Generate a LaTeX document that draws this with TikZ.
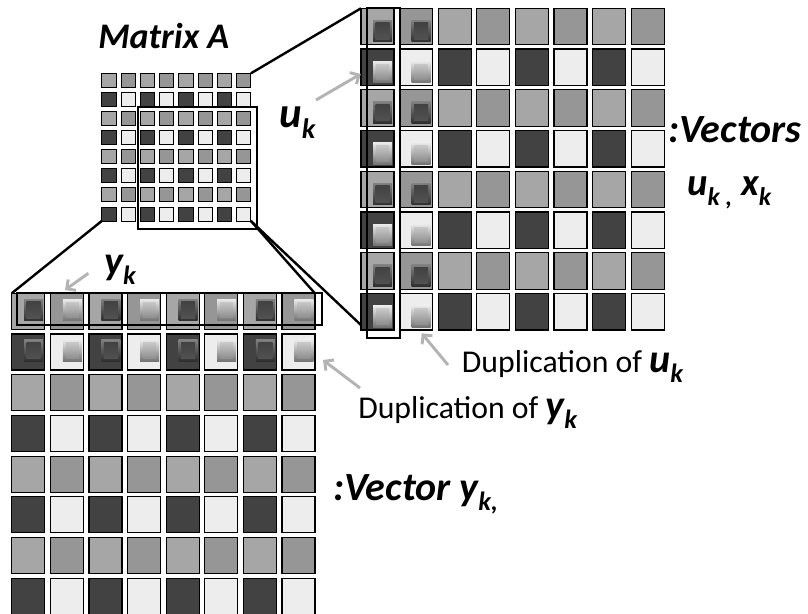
\documentclass[tikz,border=0pt]{standalone}
\usepackage{fontspec}
\setmainfont{Carlito}
\usetikzlibrary{arrows.meta,calc}
\definecolor{gA}{HTML}{A6A6A6}
\definecolor{gB}{HTML}{969696}
\definecolor{gD}{HTML}{424242}
\definecolor{gL}{HTML}{EDEDED}
\definecolor{arr}{HTML}{B3B3B3}
\makeatletter
\newcommand\sbs[1]{\raisebox{-0.27em}{\fontsize{\fpeval{0.66*\f@size}}{1}\selectfont #1}}
\makeatother
\tikzset{
  cellbig/.style={draw=black, line width=0.9pt, minimum width=24.75pt, minimum height=27.4pt, inner sep=0pt, outer sep=0pt},
  cellbot/.style={cellbig, minimum height=27pt},
  cellsm/.style={draw=black, line width=0.7pt, minimum width=10.7pt, minimum height=10.5pt, inner sep=0pt, outer sep=0pt},
  hl/.style={draw=black, line width=1.5pt, inner sep=0pt, outer sep=0pt},
  conn/.style={black, line width=1.8pt},
  grayarrow/.style={arr, line width=2.2pt, -{Straight Barb[length=5pt,width=10pt]}},
  lbl/.style={inner sep=0pt, anchor=base west, font=\fontsize{30}{32}\selectfont\bfseries\itshape},
}
\newcommand\dbtn[2]{%
  \begin{scope}[shift={(#1,#2)}]
    \shade[top color=black!50, bottom color=black!82] (-9.5,-10.75) rectangle (9.5,10.75);
    \shade[top color=black!74, bottom color=black!68] (-7,-8.25) rectangle (7,8.25);
  \end{scope}}
\newcommand\lbtn[2]{%
  \begin{scope}[shift={(#1,#2)}]
    \shade[top color=black!8, bottom color=black!55] (-9.5,-10.75) rectangle (9.5,10.75);
    \shade[top color=black!22, bottom color=black!44] (-6.5,-7.75) rectangle (6.5,7.75);
  \end{scope}}
\begin{document}
\begin{tikzpicture}[x=0.75pt, y=-0.75pt]
\useasboundingbox (0,0) rectangle (808,614);
% small matrix A
\foreach \j in {1,...,8}{
  \foreach \i in {1,...,8}{
    \pgfmathsetmacro\cx{108.85+19.28*(\i-1)}
    \pgfmathsetmacro\cy{80.3+19.1*(\j-1)}
    \ifodd\j \ifodd\i \def\cc{gA}\else\def\cc{gB}\fi \else \ifodd\i \def\cc{gD}\else\def\cc{gL}\fi \fi
    \node[cellsm, fill=\cc] (s-\j-\i) at (\cx,\cy) {};
  }
}
\node[hl, minimum width=89.25pt, minimum height=91pt] (srect) at (197.8,168) {};
% big matrix (vectors u_k, x_k)
\foreach \j in {1,...,8}{
  \foreach \i in {1,...,8}{
    \pgfmathsetmacro\cx{377.5+38.6*(\i-1)}
    \pgfmathsetmacro\cy{26.55+40.75*(\j-1)}
    \ifodd\j \ifodd\i \def\cc{gA}\else\def\cc{gB}\fi \else \ifodd\i \def\cc{gD}\else\def\cc{gL}\fi \fi
    \node[cellbig, fill=\cc] (B-\j-\i) at (\cx,\cy) {};
  }
}
\foreach \j in {1,...,8}{
  \foreach \i in {1,2}{
    \pgfmathsetmacro\bx{377.5+38.6*(\i-1)+5}
    \pgfmathsetmacro\by{26.55+40.75*(\j-1)+4.5}
    \ifodd\j \dbtn{\bx}{\by}\else\lbtn{\bx}{\by}\fi
  }
}
\node[hl, minimum width=25pt, minimum height=247.5pt] (Brect) at (383.35,173.3) {};
% bottom matrix (vector y_k)
\foreach \j in {1,...,8}{
  \foreach \i in {1,...,8}{
    \pgfmathsetmacro\cx{28.2+38.6*(\i-1)}
    \pgfmathsetmacro\cy{311.3+40.7*(\j-1)}
    \ifodd\j \ifodd\i \def\cc{gA}\else\def\cc{gB}\fi \else \ifodd\i \def\cc{gD}\else\def\cc{gL}\fi \fi
    \node[cellbot, fill=\cc] (b-\j-\i) at (\cx,\cy) {};
  }
}
\foreach \j in {1,2}{
  \foreach \i in {1,...,8}{
    \pgfmathsetmacro\bx{28.2+38.6*(\i-1)+5.5}
    \pgfmathsetmacro\by{311.3+40.7*(\j-1)-1.5}
    \ifodd\i \dbtn{\bx}{\by}\else\lbtn{\bx}{\by}\fi
  }
}
\node[hl, minimum width=228.75pt, minimum height=24.2pt] (brect) at (169.2,308.85) {};
% connectors
\draw[conn] (s-1-8.north east) -- (B-1-1.north west);
\draw[conn] (s-8-1.south west) -- (b-1-1.north west);
\draw[conn] (s-8-8.south east) -- (b-1-8.north east);
\coordinate (Bbl) at ($(B-8-1.south west)+(0,-5)$);
\draw[conn] (s-8-8.south east) -- (Bbl);
% labels
\node[lbl, font=\fontsize{27}{30}\selectfont\bfseries\itshape] (matA) at (98,48) {Matrix A};
\node[lbl, font=\fontsize{32}{34}\selectfont\bfseries\itshape] (ulab) at (279,127) {u\sbs{k}};
\node[lbl] (vecs) at (668,142) {:Vectors};
\node[lbl, font=\fontsize{29}{32}\selectfont\bfseries\itshape] (uxlab) at (687,195) {u\sbs{k ,} x\sbs{k}};
\node[lbl, font=\fontsize{30}{32}\selectfont\bfseries\itshape] (ylab) at (104,274) {y\sbs{k}};
\node[lbl, font=\fontsize{30}{32}\selectfont\bfseries\itshape] (vecy) at (333,500) {:Vector y\sbs{k,}};
\node[inner sep=0pt, anchor=base west] (dupu) at (461.7,372) {\fontsize{23.8}{26}\selectfont Duplication of {\fontsize{30}{30}\selectfont\bfseries\itshape u\sbs{k}}};
\node[inner sep=0pt, anchor=base west] (dupy) at (358,418) {\fontsize{23.8}{26}\selectfont Duplication of {\fontsize{30}{30}\selectfont\bfseries\itshape y\sbs{k}}};
% gray arrows
\coordinate (ua-t) at (316,100);
\coordinate (ua-h) at (360.7,74);
\draw[grayarrow] (ua-t) -- (ua-h);
\coordinate (ya-t) at (88.3,273.3);
\coordinate (ya-h) at (65,290);
\draw[grayarrow] (ya-t) -- (ya-h);
\coordinate (du-t) at (448,365);
\coordinate (du-h) at (421.7,333.3);
\draw[grayarrow] (du-t) -- (du-h);
\coordinate (dy-t) at (360,388);
\coordinate (dy-h) at (323,360);
\draw[grayarrow] (dy-t) -- (dy-h);
\end{tikzpicture}
\end{document}
